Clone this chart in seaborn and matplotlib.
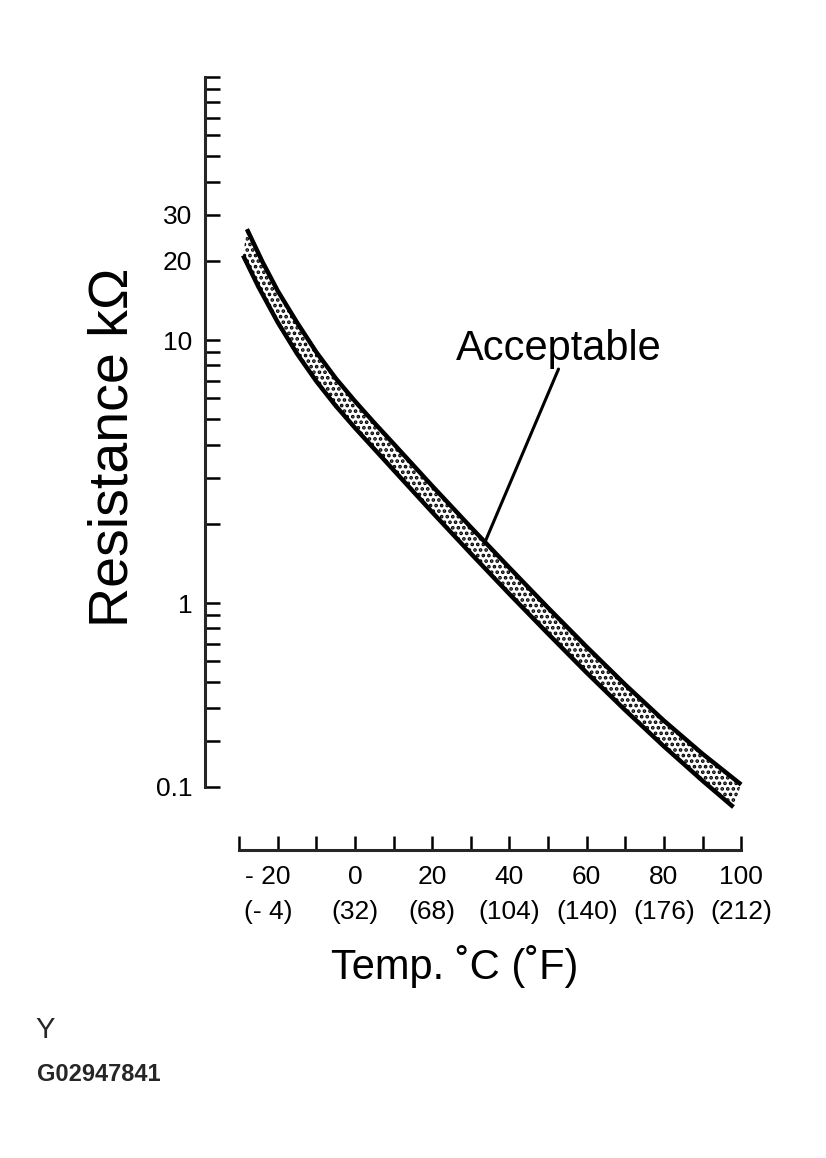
import numpy as np
import matplotlib
matplotlib.use("Agg")
import matplotlib.pyplot as plt
import matplotlib.transforms as mtransforms
import seaborn as sns
from matplotlib.ticker import FixedLocator, NullFormatter

# acceptable band of the sensor: temperature (C) vs resistance (kOhm)
upper_temp = [-28, -24, -20, -15, -10, -5, 0, 5, 10, 20, 30, 40, 50, 60, 70, 80, 90, 100]
upper_kohm = [26.4, 19.86, 15.35, 11.64, 8.98, 7.15, 5.85, 4.84, 4.03, 2.786, 1.941, 1.361,
              0.959, 0.681, 0.489, 0.357, 0.267, 0.204]

lower_temp = [-29, -25, -20, -15, -10, -5, 0, 5, 10, 20, 30, 40, 50, 60, 70, 80, 90, 98]
lower_kohm = [20.97, 15.91, 11.66, 8.86, 6.96, 5.62, 4.63, 3.85, 3.20, 2.213, 1.542, 1.081,
              0.764, 0.543, 0.391, 0.285, 0.211, 0.1675]

# axis ticks
x_major = [-20, 0, 20, 40, 60, 80, 100]
x_c_text = ["- 20", "0", "20", "40", "60", "80", "100"]
x_f_text = ["(- 4)", "(32)", "(68)", "(104)", "(140)", "(176)", "(212)"]
x_minor = [-30, -10, 10, 30, 50, 70, 90]

y_major = [0.2, 1, 10, 20, 30]
y_major_text = ["0.1", "1", "10", "20", "30"]
y_minor = [0.3, 0.4, 0.5, 0.6, 0.7, 0.8, 0.9,
           2, 3, 4, 5, 6, 7, 8, 9,
           40, 50, 60, 70, 80, 90, 100]

sns.set_style("ticks")
plt.rcParams['font.family'] = ['Liberation Sans', 'DejaVu Sans']
plt.rcParams['hatch.linewidth'] = 1.8
plt.rcParams['hatch.color'] = 'black'

fig = plt.figure(figsize=(8.26, 11.58), dpi=100)
ax = fig.add_axes([205 / 826, 1 - 850 / 1158, 540 / 826, 773 / 1158])
ax.set_yscale('log')

# dotted band between the two limits
band_t = np.r_[upper_temp, lower_temp[::-1]]
band_r = np.r_[upper_kohm, lower_kohm[::-1]]
ax.fill(band_t, band_r, facecolor='white', edgecolor='black', hatch='...', linewidth=0, zorder=1)

sns.lineplot(x=upper_temp, y=upper_kohm, color='black', lw=3.2, estimator=None, sort=False, ax=ax,
             solid_capstyle='butt', solid_joinstyle='round', zorder=3)
sns.lineplot(x=lower_temp, y=lower_kohm, color='black', lw=3.2, estimator=None, sort=False, ax=ax,
             solid_capstyle='butt', solid_joinstyle='round', zorder=3)

ax.set_xlim(-38.86, 101)
ax.set_ylim(0.11505, 100)

for s in ['top', 'right']:
    ax.spines[s].set_visible(False)
ax.spines['left'].set_bounds(0.2, 100)
ax.spines['bottom'].set_bounds(-30, 100)
ax.spines['left'].set_linewidth(2.2)
ax.spines['bottom'].set_linewidth(2.2)

ax.yaxis.set_major_locator(FixedLocator(y_major))
ax.yaxis.set_minor_locator(FixedLocator(y_minor))
ax.yaxis.set_minor_formatter(NullFormatter())
ax.set_yticklabels(y_major_text)

ax.set_xticks(x_major, [c + "\n" + f for c, f in zip(x_c_text, x_f_text)])
ax.xaxis.set_minor_locator(FixedLocator(x_minor))

ax.tick_params(axis='y', which='both', direction='in', length=11, width=1.8, pad=9,
               labelsize=19, colors='black')
ax.tick_params(axis='x', which='both', direction='in', length=10, width=1.8, pad=11,
               labelsize=19, colors='black')

xlabels = ax.get_xticklabels()
for lbl in xlabels:
    lbl.set_linespacing(1.55)
# the "- 20" label sits a little left of its tick
xlabels[0].set_transform(xlabels[0].get_transform()
                         + mtransforms.ScaledTranslation(-10 / 100, 0, fig.dpi_scale_trans))

ax.set_xlabel("Temp. ˚C (˚F)", fontsize=30, color='black')
ax.xaxis.set_label_coords((455 - 205) / 540, -(945 - 850) / 773)
ax.xaxis.label.set_va('top')

ax.set_ylabel("Resistance kΩ", fontsize=40, color='black')
ax.yaxis.set_label_coords(-0.17, 0.521)
ax.yaxis.label.set_va('center')

ax.annotate("Acceptable", xy=(33.7, 1.71), xytext=(52.7, 8.39), ha='center', va='baseline',
            fontsize=30, color='black',
            arrowprops=dict(arrowstyle='-', lw=2.2, color='black', relpos=(0.5, 0.0),
                            shrinkA=0, shrinkB=0, patchA=None))

fig.text(35 / 826, 1 - 1038 / 1158, "Y", fontsize=21, ha='left', va='baseline')
fig.text(37 / 826, 1 - 1081 / 1158, "G02947841", fontsize=17, fontweight='bold',
         ha='left', va='baseline')

fig.savefig("out.png", dpi=100)
